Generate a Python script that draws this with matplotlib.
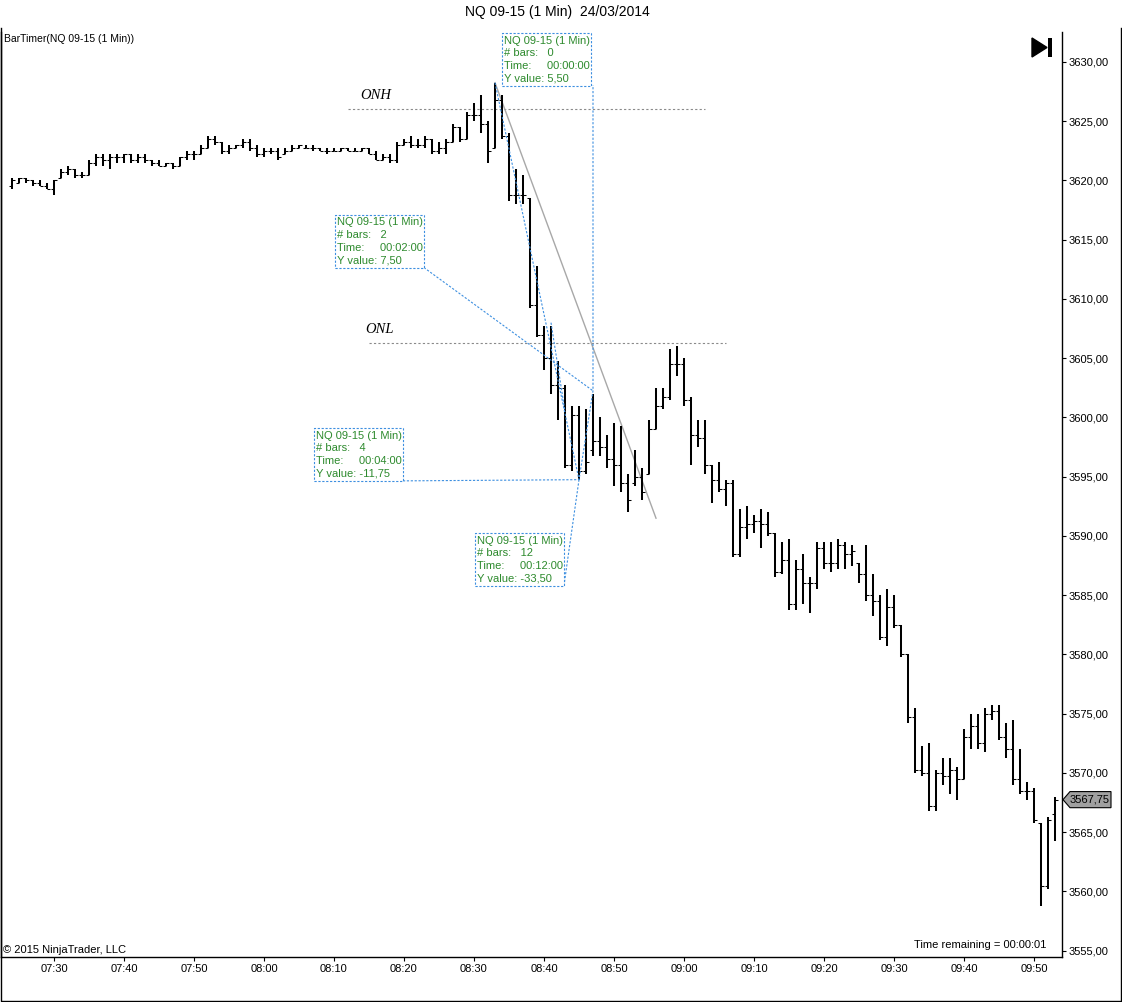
import matplotlib
matplotlib.use("Agg")
import matplotlib.pyplot as plt
from matplotlib.patches import Rectangle, Polygon
import numpy as np

plt.rcParams['font.family'] = ['Liberation Sans', 'DejaVu Sans']

# NQ 09-15, 1 minute bars, 07:24 .. 09:53
bar_open = [
    3619.5, 3619.75, 3620.25, 3620.0, 3619.75, 3619.5, 3619.25, 3620.25, 3620.75, 3621.0,
    3620.5, 3620.5, 3621.5, 3622.0, 3621.75, 3622.0, 3622.0, 3622.25, 3621.75, 3622.0,
    3621.75, 3621.5, 3621.25, 3621.5, 3621.25, 3622.0, 3622.25, 3622.25, 3622.75, 3623.5,
    3623.25, 3622.5, 3622.75, 3623.0, 3623.25, 3622.75, 3622.25, 3622.5, 3622.5, 3622.25,
    3622.5, 3622.75, 3622.75, 3622.75, 3622.75, 3622.5, 3622.5, 3622.5, 3622.75, 3622.5,
    3622.5, 3622.75, 3622.25, 3621.75, 3622.0, 3621.75, 3623.0, 3623.25, 3623.0, 3623.0,
    3623.5, 3622.5, 3622.75, 3623.25, 3624.5, 3623.5, 3625.5, 3625.5, 3624.75, 3622.75,
    3626.75, 3623.75, 3618.75, 3618.75, 3618.5, 3609.5, 3607.0, 3605.0, 3602.75, 3602.5,
    3596.0, 3600.25, 3595.5, 3597.25, 3598.0, 3597.5, 3596.5, 3596.0, 3594.5, 3594.5,
    3595.0, 3595.25, 3599.0, 3601.0, 3601.75, 3604.5, 3604.5, 3601.5, 3598.5, 3598.25,
    3596.0, 3594.75, 3594.0, 3594.5, 3588.5, 3590.75, 3591.0, 3591.25, 3591.0, 3590.25,
    3587.0, 3588.0, 3584.25, 3587.25, 3586.0, 3586.0, 3589.0, 3587.75, 3587.75, 3589.25,
    3588.5, 3587.75, 3586.75, 3585.0, 3584.5, 3581.5, 3584.0, 3582.5, 3580.0, 3574.75,
    3570.25, 3570.0, 3567.25, 3570.0, 3569.75, 3570.25, 3569.5, 3573.0, 3574.0, 3572.5,
    3575.0, 3575.25, 3573.0, 3572.0, 3569.5, 3568.5, 3568.5, 3565.75, 3560.5, 3566.5,
]
bar_high = [
    3620.25, 3620.25, 3620.25, 3620.0, 3620.0, 3619.75, 3620.0, 3621.0, 3621.25, 3621.0,
    3620.75, 3621.75, 3622.25, 3622.25, 3622.25, 3622.25, 3622.25, 3622.25, 3622.25, 3622.25,
    3621.75, 3621.75, 3621.5, 3621.5, 3622.0, 3622.5, 3622.5, 3623.0, 3623.75, 3623.75,
    3623.25, 3623.0, 3623.0, 3623.5, 3623.5, 3623.0, 3622.75, 3622.75, 3622.75, 3622.75,
    3623.0, 3623.0, 3623.0, 3623.0, 3622.75, 3622.75, 3622.75, 3622.75, 3622.75, 3622.75,
    3622.75, 3622.75, 3622.5, 3622.25, 3622.25, 3623.25, 3623.5, 3623.75, 3623.5, 3623.75,
    3623.5, 3623.25, 3623.5, 3624.75, 3624.5, 3625.75, 3626.5, 3627.25, 3625.0, 3628.25,
    3627.25, 3624.0, 3621.0, 3620.5, 3618.5, 3612.75, 3607.75, 3607.75, 3604.75, 3602.75,
    3601.0, 3601.0, 3600.75, 3602.0, 3600.0, 3598.5, 3599.5, 3599.25, 3595.25, 3597.25,
    3595.75, 3599.75, 3602.5, 3602.5, 3605.75, 3606.0, 3605.0, 3601.75, 3599.75, 3599.75,
    3596.0, 3596.25, 3594.75, 3594.75, 3592.25, 3592.5, 3591.75, 3592.25, 3592.0, 3590.25,
    3589.5, 3589.75, 3588.0, 3588.5, 3586.5, 3589.5, 3589.5, 3589.5, 3589.75, 3589.5,
    3589.25, 3587.75, 3589.25, 3586.75, 3585.0, 3585.5, 3585.0, 3582.5, 3580.0, 3575.5,
    3572.25, 3572.5, 3570.25, 3571.25, 3571.25, 3570.5, 3573.75, 3575.0, 3575.0, 3575.5,
    3575.75, 3575.75, 3574.25, 3574.5, 3572.0, 3569.25, 3568.75, 3565.75, 3566.25, 3568.0,
]
bar_low = [
    3619.25, 3619.75, 3619.75, 3619.5, 3619.5, 3619.25, 3618.75, 3620.25, 3620.5, 3620.25,
    3620.25, 3620.5, 3621.25, 3621.25, 3621.0, 3621.5, 3621.5, 3621.5, 3621.5, 3621.5,
    3621.25, 3621.25, 3621.25, 3621.0, 3621.25, 3621.75, 3621.75, 3622.25, 3622.75, 3623.0,
    3622.25, 3622.25, 3622.75, 3622.75, 3622.5, 3622.0, 3622.0, 3622.25, 3621.75, 3622.25,
    3622.5, 3622.75, 3622.75, 3622.5, 3622.5, 3622.25, 3622.5, 3622.5, 3622.5, 3622.5,
    3622.5, 3622.25, 3621.75, 3621.75, 3621.5, 3621.5, 3623.0, 3622.75, 3622.75, 3622.75,
    3622.25, 3622.25, 3622.25, 3623.25, 3623.25, 3623.5, 3625.0, 3624.0, 3621.5, 3622.75,
    3623.5, 3618.25, 3618.0, 3618.0, 3609.25, 3606.75, 3604.0, 3602.0, 3599.75, 3595.75,
    3595.5, 3594.75, 3595.25, 3596.75, 3596.75, 3595.75, 3594.25, 3593.75, 3592.0, 3594.25,
    3593.0, 3595.25, 3599.0, 3600.75, 3601.5, 3603.5, 3601.0, 3596.0, 3597.5, 3595.25,
    3592.75, 3593.75, 3592.5, 3588.25, 3588.25, 3589.75, 3590.25, 3589.0, 3590.0, 3586.5,
    3586.75, 3583.75, 3583.75, 3584.25, 3583.5, 3585.5, 3587.25, 3587.0, 3587.25, 3587.25,
    3587.5, 3586.0, 3584.5, 3583.25, 3581.25, 3580.75, 3582.25, 3579.75, 3574.25, 3570.0,
    3569.75, 3566.75, 3566.75, 3569.0, 3568.25, 3567.75, 3569.5, 3572.0, 3572.0, 3571.75,
    3574.5, 3572.75, 3571.25, 3569.0, 3568.25, 3567.75, 3565.75, 3558.75, 3560.25, 3564.25,
]
bar_close = [
    3620.0, 3620.25, 3620.0, 3619.75, 3619.5, 3619.25, 3620.0, 3620.75, 3621.0, 3620.5,
    3620.5, 3621.5, 3622.0, 3621.75, 3622.0, 3622.0, 3622.25, 3621.75, 3622.0, 3621.75,
    3621.5, 3621.25, 3621.5, 3621.25, 3622.0, 3622.25, 3622.25, 3622.75, 3623.5, 3623.25,
    3622.5, 3622.75, 3623.0, 3623.25, 3622.75, 3622.25, 3622.5, 3622.5, 3622.0, 3622.5,
    3622.75, 3623.0, 3622.75, 3622.75, 3622.5, 3622.5, 3622.5, 3622.75, 3622.5, 3622.5,
    3622.75, 3622.25, 3621.75, 3622.0, 3621.75, 3623.0, 3623.25, 3623.0, 3623.0, 3623.5,
    3622.5, 3622.75, 3623.25, 3624.5, 3623.5, 3625.5, 3625.5, 3624.75, 3622.5, 3626.75,
    3623.75, 3618.75, 3618.75, 3618.75, 3609.5, 3607.0, 3605.0, 3602.75, 3602.5, 3596.0,
    3600.25, 3595.5, 3596.25, 3598.0, 3597.5, 3596.5, 3596.0, 3594.5, 3593.0, 3595.0,
    3593.75, 3599.0, 3601.0, 3601.75, 3604.5, 3604.5, 3601.5, 3598.5, 3598.25, 3596.0,
    3594.75, 3594.0, 3594.5, 3588.5, 3590.75, 3591.0, 3591.25, 3591.0, 3590.25, 3587.0,
    3588.0, 3584.25, 3587.25, 3586.0, 3586.0, 3589.0, 3587.75, 3587.75, 3589.25, 3588.5,
    3588.75, 3586.75, 3585.0, 3584.5, 3581.5, 3584.0, 3582.5, 3580.0, 3574.75, 3570.25,
    3570.0, 3567.25, 3570.0, 3569.75, 3570.25, 3569.5, 3573.0, 3574.0, 3572.5, 3575.0,
    3575.25, 3573.0, 3572.0, 3569.5, 3568.5, 3568.5, 3566.0, 3560.5, 3566.0, 3567.75,
]

# x axis: bar index, bar 0 = 07:24
tick_bars = [6, 16, 26, 36, 46, 56, 66, 76, 86, 96, 106, 116, 126, 136, 146]
tick_labels = ["07:30", "07:40", "07:50", "08:00", "08:10", "08:20", "08:30", "08:40",
               "08:50", "09:00", "09:10", "09:20", "09:30", "09:40", "09:50"]
price_ticks = [3555, 3560, 3565, 3570, 3575, 3580, 3585, 3590, 3595, 3600,
               3605, 3610, 3615, 3620, 3625, 3630]

# overnight high / low lines (price, from bar, to bar)
onh = (3626.0, 48, 99)
onl = (3606.25, 51, 102)

# grey trend line
trend_x = [69, 92]
trend_y = [3628.25, 3591.5]

# ruler lines (blue dashed)
ruler_a_x = [69, 81, 83, 83]
ruler_a_y = [3628.25, 3594.75, 3602.25, 3628.05]
ruler_b_x = [77, 79]
ruler_b_y = [3608.0, 3600.5]

# ruler text boxes: left bar, top price, text
box_left = [70.0, 46.15, 43.15, 66.15]
box_top = [3632.42, 3617.1, 3599.1, 3590.25]
box_text = [
    "NQ 09-15 (1 Min)\n# bars:   0\nTime:     00:00:00\nY value: 5,50",
    "NQ 09-15 (1 Min)\n# bars:   2\nTime:     00:02:00\nY value: 7,50",
    "NQ 09-15 (1 Min)\n# bars:   4\nTime:     00:04:00\nY value: -11,75",
    "NQ 09-15 (1 Min)\n# bars:   12\nTime:     00:12:00\nY value: -33,50",
]
box_w = 12.7
box_h = 4.45
# where each box connects to the ruler
link_box = [1, 2, 3]
link_x = [83, 81, 81]
link_y = [3602.25, 3594.75, 3594.75]

W, H = 1122, 1002
fig = plt.figure(figsize=(W / 100, H / 100), dpi=100)
fig.patch.set_facecolor('white')

left, right, top, bottom = 1, 1062, 32, 957
ax = fig.add_axes([left / W, 1 - bottom / H, (right - left) / W, (bottom - top) / H])
ax.set_xlim(-1.571, 150.0)
ax.set_ylim(3554.47, 3632.53)

x = np.arange(len(bar_high))
ax.vlines(x, bar_low, bar_high, color='black', lw=1.45, zorder=3)
ax.hlines(bar_open, x - 0.4, x, color='black', lw=0.75, zorder=3)
ax.hlines(bar_close, x, x + 0.4, color='black', lw=0.75, zorder=3)

blue = '#3d8fe0'
green = '#2d8a2d'
ax.hlines(onh[0], onh[1], onh[2], color='#8a8a8a', lw=0.8, linestyles=(0, (2, 2)))
ax.hlines(onl[0], onl[1], onl[2], color='#8a8a8a', lw=0.8, linestyles=(0, (2, 2)))
ax.text(onh[1] + 1.7, onh[0] + 1.15, "ONH", family=['Liberation Serif', 'DejaVu Serif'],
        style='italic', fontsize=10.5, va='center', ha='left')
ax.text(onl[1] - 0.6, onl[0] + 1.15, "ONL", family=['Liberation Serif', 'DejaVu Serif'],
        style='italic', fontsize=10.5, va='center', ha='left')

ax.plot(trend_x, trend_y, color='#a8a8a8', lw=1.0, zorder=2)
ax.plot(ruler_a_x, ruler_a_y, color=blue, lw=0.8, ls=(0, (2, 1.5)), zorder=4, clip_on=False)
ax.plot(ruler_b_x, ruler_b_y, color=blue, lw=0.8, ls=(0, (2, 1.5)), zorder=4)

# connector from each text box corner to its ruler point
for i, k in enumerate(link_box):
    bx = box_left[k] + box_w
    by = box_top[k] - box_h
    ax.plot([bx, link_x[i]], [by, link_y[i]], color=blue, lw=0.8, ls=(0, (2, 1.5)), zorder=4)

for bl, bt, txt in zip(box_left, box_top, box_text):
    ax.add_patch(Rectangle((bl, bt - box_h), box_w, box_h, facecolor='white',
                           edgecolor=blue, lw=0.8, ls=(0, (2, 1.5)), zorder=5, clip_on=False))
    ax.text(bl + 0.25, bt - 0.22, txt, color=green, fontsize=8, va='top', ha='left',
            linespacing=1.32, zorder=6, clip_on=False)

# axes styling
ax.spines['top'].set_visible(False)
for s in ['left', 'right', 'bottom']:
    ax.spines[s].set_color('black')
    ax.spines[s].set_linewidth(1.0)
ax.yaxis.tick_right()
ax.set_yticks(price_ticks)
ax.set_yticklabels([f"{v:.2f}".replace('.', ',') for v in price_ticks])
ax.set_xticks(tick_bars)
ax.set_xticklabels(tick_labels)
ax.tick_params(axis='y', direction='out', length=3, pad=2, labelsize=8, width=0.8)
ax.tick_params(axis='x', direction='out', length=3, pad=2, labelsize=8, width=0.8)

# last price marker
last = bar_close[-1]
tr = matplotlib.transforms.blended_transform_factory(ax.transAxes, ax.transData)
ph = 0.68
px = 1.0 / (right - left)
ax.add_patch(Polygon([(1.0 + 1 * px, last), (1.0 + 8 * px, last + ph), (1.0 + 49 * px, last + ph),
                      (1.0 + 49 * px, last - ph), (1.0 + 8 * px, last - ph)], closed=True,
                     facecolor='#a0a0a0', edgecolor='black', lw=0.8, transform=tr, clip_on=False))
ax.text(1.0 + 28 * px, last, f"{last:.2f}".replace('.', ','), transform=tr, fontsize=8,
        ha='center', va='center', clip_on=False)

# overlay in pixel coordinates for frame, labels and icon
ov = fig.add_axes([0, 0, 1, 1], facecolor='none')
ov.set_xlim(0, W)
ov.set_ylim(H, 0)
ov.axis('off')
ov.plot([0.5, 0.5, 1121, 1121], [28, 1000.5, 1000.5, 28], color='black', lw=1.0)
ov.text(557, 12, "NQ 09-15 (1 Min)  24/03/2014", fontsize=10, ha='center', va='center')
ov.text(4, 39, "BarTimer(NQ 09-15 (1 Min))", fontsize=7.5, ha='left', va='center')
ov.text(3, 950, "\u00a9 2015 NinjaTrader, LLC", fontsize=8, ha='left', va='center')
ov.text(1046, 945, "Time remaining = 00:00:01", fontsize=8, ha='right', va='center')
ov.add_patch(Polygon([(1032, 38), (1032, 57), (1047, 47.5)], closed=True, facecolor='black',
                     edgecolor='black'))
ov.add_patch(Rectangle((1048, 38), 4, 19, facecolor='black', edgecolor='none'))

fig.savefig("out.png", dpi=100)
